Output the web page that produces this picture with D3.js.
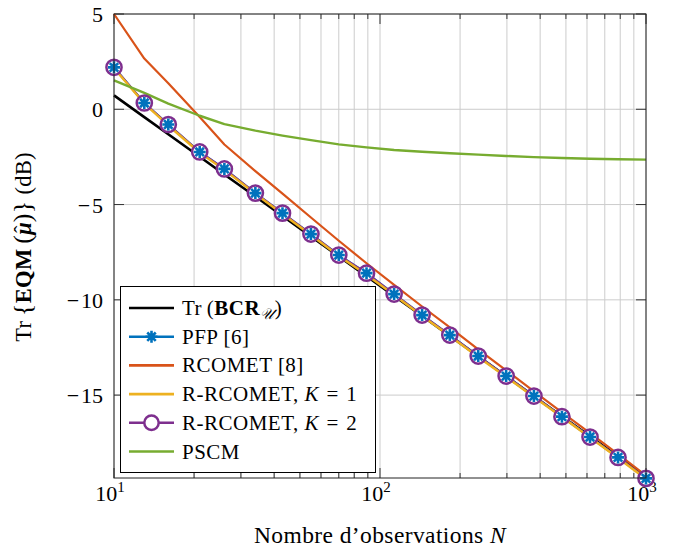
<!DOCTYPE html>
<html>
<head>
<meta charset="utf-8">
<script src="https://cdn.jsdelivr.net/npm/d3@7"></script>
<style>
  body { margin: 0; background: #fff; }
  text { font-family: "Liberation Serif", "DejaVu Serif", serif; }
</style>
</head>
<body>
<div id="container"></div>
<script>
/* DATA */
const nObs = [10, 13, 16, 21, 26, 34, 43, 55, 70, 89, 113, 144, 183, 234, 298, 379, 483, 616, 785, 1000];
const bcr = [0.73, -0.41, -1.31, -2.49, -3.42, -4.58, -5.60, -6.67, -7.72, -8.76, -9.80, -10.85, -11.89, -12.96, -14.01, -15.06, -16.11, -17.16, -18.22, -19.27];
const pfp = [2.2, 0.33, -0.8, -2.24, -3.13, -4.4, -5.45, -6.55, -7.65, -8.6, -9.7, -10.8, -11.85, -12.95, -14.0, -15.05, -16.13, -17.2, -18.27, -19.37];
const rcomet = [5.0, 2.66, 1.37, -0.41, -1.85, -3.25, -4.43, -5.68, -6.9, -8.08, -9.22, -10.35, -11.45, -12.6, -13.7, -14.8, -15.9, -17.0, -18.1, -19.22];
const rrcometK1 = [2.15, 0.3, -0.85, -2.28, -3.18, -4.43, -5.5, -6.6, -7.7, -8.68, -9.75, -10.85, -11.9, -13.0, -14.05, -15.1, -16.15, -17.22, -18.3, -19.4];
const rrcometK2 = [2.2, 0.33, -0.8, -2.24, -3.13, -4.4, -5.45, -6.55, -7.65, -8.6, -9.7, -10.8, -11.85, -12.95, -14.0, -15.05, -16.13, -17.2, -18.27, -19.37];
const pscm = [1.52, 0.86, 0.3, -0.34, -0.78, -1.12, -1.38, -1.62, -1.84, -2.0, -2.14, -2.23, -2.31, -2.38, -2.45, -2.51, -2.56, -2.6, -2.62, -2.64];
const yTicks = [-15, -10, -5, 0, 5];
const xTicks = [10, 100, 1000];

/* CONSTANTS */
const width = 689, height = 556;
const mLeft = 114, mRight = 646, mTop = 14, mBottom = 478;
const colors = {
  bcr: "#000000", pfp: "#0072BD", rcomet: "#D95319",
  k1: "#EDB120", k2: "#7E2F8E", pscm: "#77AC30"
};

const svg = d3.select("#container")
  .append("svg")
  .attr("width", width)
  .attr("height", height);

const xScale = d3.scaleLog().domain([10, 1000]).range([mLeft, mRight]);
const yScale = d3.scaleLinear().domain([-19.35, 5]).range([mBottom, mTop]);

// grid
const minorX = [];
[10, 100].forEach(d => { for (let k = 2; k <= 9; k++) minorX.push(d * k); });

svg.append("g")
  .selectAll("line")
  .data(minorX.concat(xTicks))
  .join("line")
  .attr("x1", d => xScale(d)).attr("x2", d => xScale(d))
  .attr("y1", mTop).attr("y2", mBottom)
  .attr("stroke", "#cccccc").attr("stroke-width", 1);

svg.append("g")
  .selectAll("line")
  .data(yTicks)
  .join("line")
  .attr("x1", mLeft).attr("x2", mRight)
  .attr("y1", d => yScale(d)).attr("y2", d => yScale(d))
  .attr("stroke", "#cccccc").attr("stroke-width", 1);

// ticks (inside)
const tickG = svg.append("g").attr("stroke", "#333").attr("stroke-width", 1);
yTicks.forEach(d => {
  tickG.append("line").attr("x1", mLeft).attr("x2", mLeft + 10).attr("y1", yScale(d)).attr("y2", yScale(d));
  tickG.append("line").attr("x1", mRight - 10).attr("x2", mRight).attr("y1", yScale(d)).attr("y2", yScale(d));
});
minorX.forEach(d => {
  tickG.append("line").attr("x1", xScale(d)).attr("x2", xScale(d)).attr("y1", mBottom).attr("y2", mBottom - 5);
  tickG.append("line").attr("x1", xScale(d)).attr("x2", xScale(d)).attr("y1", mTop).attr("y2", mTop + 5);
});
xTicks.forEach(d => {
  tickG.append("line").attr("x1", xScale(d)).attr("x2", xScale(d)).attr("y1", mBottom).attr("y2", mBottom - 10);
  tickG.append("line").attr("x1", xScale(d)).attr("x2", xScale(d)).attr("y1", mTop).attr("y2", mTop + 10);
});

// tick labels
svg.append("g")
  .selectAll("text")
  .data(yTicks)
  .join("text")
  .attr("x", mLeft - 11)
  .attr("y", d => yScale(d) + 8)
  .attr("text-anchor", "end")
  .attr("font-size", 22)
  .text(d => d < 0 ? "\u2212\u200A" + Math.abs(d) : d);

const xl = svg.append("g")
  .selectAll("text")
  .data(xTicks)
  .join("text")
  .attr("x", d => xScale(d) - 4)
  .attr("y", 501)
  .attr("text-anchor", "middle")
  .attr("font-size", 22);
xl.append("tspan").text("10");
xl.append("tspan").attr("dy", -9).attr("font-size", 15).text(d => Math.log10(d));

// axis labels
const xlab = svg.append("text")
  .attr("x", (mLeft + mRight) / 2)
  .attr("y", 543)
  .attr("text-anchor", "middle")
  .attr("font-size", 23.5)
  .attr("letter-spacing", 0.4);
xlab.append("tspan").text("Nombre d\u2019observations ");
xlab.append("tspan").attr("font-style", "italic").text("N");

const ylab = svg.append("text")
  .attr("transform", `translate(31,${(mTop + mBottom) / 2 + 1}) rotate(-90)`)
  .attr("text-anchor", "middle")
  .attr("font-size", 22.5)
  .attr("letter-spacing", 0.3);
ylab.append("tspan").text("Tr\u2009");
ylab.append("tspan").attr("font-size", 26).text("{");
ylab.append("tspan").attr("font-weight", "bold").text("EQM\u2009");
ylab.append("tspan").attr("font-size", 26).text("(");
ylab.append("tspan").attr("font-weight", "bold").attr("font-style", "italic").text("\u03BC");
ylab.append("tspan").attr("dx", -11).attr("dy", -2).attr("font-size", 22).text("\u02C6");
ylab.append("tspan").attr("dx", 3).attr("dy", 2).attr("font-size", 26).text(")");
ylab.append("tspan").attr("font-size", 26).text("}");
ylab.append("tspan").text(" (dB)");

// lines
const line = d3.line()
  .x((d, i) => xScale(nObs[i]))
  .y(d => yScale(d));

const plot = svg.append("g");
const series = [
  { v: bcr, c: colors.bcr, w: 2.6 },
  { v: pfp, c: colors.pfp, w: 2.2 },
  { v: rrcometK2, c: colors.k2, w: 2.2 },
  { v: rcomet, c: colors.rcomet, w: 2.2 },
  { v: rrcometK1, c: colors.k1, w: 2.4 },
  { v: pscm, c: colors.pscm, w: 2.4 }
];
plot.selectAll("path")
  .data(series)
  .join("path")
  .attr("d", d => line(d.v))
  .attr("fill", "none")
  .attr("stroke", d => d.c)
  .attr("stroke-width", d => d.w)
  .attr("stroke-linejoin", "round");

// markers
const asterisk = r => {
  let p = "";
  [0, 45, 90, 135].forEach(a => {
    const t = a * Math.PI / 180, dx = r * Math.cos(t), dy = r * Math.sin(t);
    p += `M${-dx},${-dy}L${dx},${dy}`;
  });
  return p;
};

plot.append("g")
  .selectAll("circle")
  .data(rrcometK2)
  .join("circle")
  .attr("cx", (d, i) => xScale(nObs[i]))
  .attr("cy", d => yScale(d))
  .attr("r", 7.6)
  .attr("fill", "#fff")
  .attr("stroke", colors.k2)
  .attr("stroke-width", 2.5);

plot.append("g")
  .selectAll("path")
  .data(pfp)
  .join("path")
  .attr("transform", (d, i) => `translate(${xScale(nObs[i])},${yScale(d)})`)
  .attr("d", asterisk(6))
  .attr("stroke", colors.pfp)
  .attr("stroke-width", 2.6);

// box
svg.append("rect")
  .attr("x", mLeft).attr("y", mTop)
  .attr("width", mRight - mLeft).attr("height", mBottom - mTop)
  .attr("fill", "none").attr("stroke", "#222").attr("stroke-width", 1);

// legend
const legend = svg.append("g");
legend.append("rect")
  .attr("x", 120.5).attr("y", 286.5)
  .attr("width", 255).attr("height", 186)
  .attr("fill", "#fff").attr("stroke", "#000").attr("stroke-width", 1);

const legendItems = [
  { key: "bcr", c: colors.bcr },
  { key: "pfp", c: colors.pfp, marker: "star" },
  { key: "rcomet", c: colors.rcomet },
  { key: "k1", c: colors.k1 },
  { key: "k2", c: colors.k2, marker: "circle" },
  { key: "pscm", c: colors.pscm }
];
legendItems.forEach((it, i) => {
  const y = 308 + i * 28.7;
  legend.append("line")
    .attr("x1", 129).attr("x2", 174).attr("y1", y).attr("y2", y)
    .attr("stroke", it.c).attr("stroke-width", 2.6);
  if (it.marker === "star") {
    legend.append("path").attr("transform", `translate(151.5,${y})`)
      .attr("d", asterisk(6)).attr("stroke", it.c).attr("stroke-width", 2.6);
  }
  if (it.marker === "circle") {
    legend.append("circle").attr("cx", 151.5).attr("cy", y).attr("r", 7.2)
      .attr("fill", "#fff").attr("stroke", it.c).attr("stroke-width", 2.5);
  }
  const t = legend.append("text").attr("x", 182).attr("y", y + 7)
    .attr("font-size", 21).attr("letter-spacing", 0.5);
  if (it.key === "bcr") {
    t.append("tspan").text("Tr\u2009(");
    t.append("tspan").attr("font-weight", "bold").text("BCR");
    t.append("tspan").attr("font-style", "italic").attr("font-size", 15).attr("dy", 4).text("\uD835\uDCB0");
    t.append("tspan").attr("dy", -4).text(")");
  } else if (it.key === "pfp") {
    t.text("PFP [6]");
  } else if (it.key === "rcomet") {
    t.text("RCOMET [8]");
  } else if (it.key === "k1" || it.key === "k2") {
    t.append("tspan").text("R-RCOMET, ");
    t.append("tspan").attr("font-style", "italic").text("K");
    t.append("tspan").text(it.key === "k1" ? "\u2004=\u20041" : "\u2004=\u20042");
  } else {
    t.text("PSCM");
  }
});
</script>
</body>
</html>
